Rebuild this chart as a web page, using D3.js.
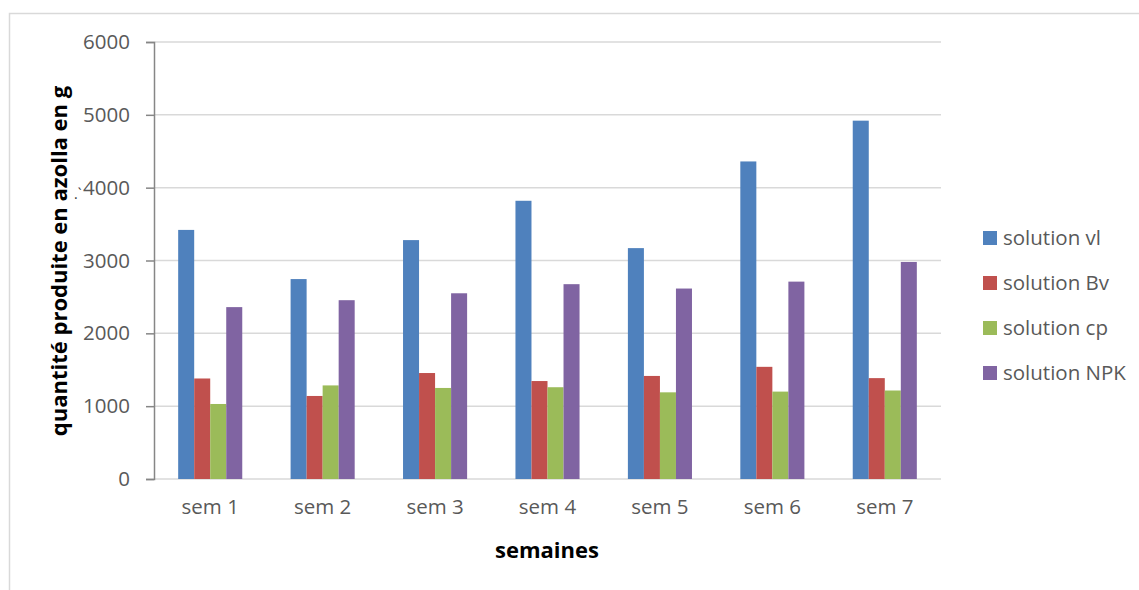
<!DOCTYPE html>
<html>
<head>
<meta charset="utf-8">
<script src="https://cdn.jsdelivr.net/npm/d3@7"></script>
<style>
  html, body { margin: 0; padding: 0; background: #fff; }
  svg { display: block; }
</style>
</head>
<body>
<svg id="chart" width="1139" height="590"></svg>
<script>
// Weekly azolla production (g) for each nutrient solution
const weeks = ["sem 1", "sem 2", "sem 3", "sem 4", "sem 5", "sem 6", "sem 7"];
const seriesNames = ["solution vl", "solution Bv", "solution cp", "solution NPK"];
const solutionVl  = [3420, 2745, 3280, 3820, 3170, 4360, 4920];
const solutionBv  = [1380, 1140, 1455, 1345, 1415, 1540, 1385];
const solutionCp  = [1030, 1285, 1250, 1260, 1190, 1200, 1215];
const solutionNpk = [2360, 2455, 2550, 2675, 2615, 2710, 2980];
const yTicks = [0, 1000, 2000, 3000, 4000, 5000, 6000];
const colors = ["#4f81bd", "#c0504d", "#9bbb59", "#8064a2"];

const seriesValues = [solutionVl, solutionBv, solutionCp, solutionNpk];

const svg = d3.select("#chart");
const font = "'Open Sans', 'DejaVu Sans', sans-serif";

// outer chart frame
svg.append("rect")
  .attr("x", 9.5).attr("y", 13.5)
  .attr("width", 1200).attr("height", 700)
  .attr("fill", "none")
  .attr("stroke", "#d9d9d9")
  .attr("stroke-width", 1.5);

const plot = { left: 154, right: 941, top: 42, bottom: 479 };

const x = d3.scaleBand()
  .domain(weeks)
  .range([plot.left, plot.right])
  .paddingInner(0.43)
  .paddingOuter(0.215);

const xs = d3.scaleBand()
  .domain(d3.range(seriesNames.length))
  .range([0, x.bandwidth()]);

const y = d3.scaleLinear()
  .domain([0, 6000])
  .range([plot.bottom, plot.top]);

// horizontal gridlines
svg.append("g")
  .selectAll("line")
  .data(yTicks)
  .join("line")
  .attr("x1", plot.left).attr("x2", plot.right)
  .attr("y1", d => y(d)).attr("y2", d => y(d))
  .attr("stroke", "#d9d9d9")
  .attr("stroke-width", 1.5);

// bars
seriesValues.forEach((vals, si) => {
  svg.append("g")
    .selectAll("rect")
    .data(vals)
    .join("rect")
    .attr("x", (d, i) => x(weeks[i]) + xs(si))
    .attr("width", xs.bandwidth())
    .attr("y", d => y(d))
    .attr("height", d => y(0) - y(d))
    .attr("fill", colors[si]);
});

// y axis
const yAxis = d3.axisLeft(y)
  .tickValues(yTicks)
  .tickSize(8)
  .tickPadding(16)
  .tickFormat(d3.format("d"));

const yg = svg.append("g")
  .attr("transform", `translate(${plot.left},0)`)
  .call(yAxis);
yg.select(".domain").attr("stroke", "#868686").attr("stroke-width", 1.5);
yg.selectAll(".tick line").attr("stroke", "#868686").attr("stroke-width", 1.5);
yg.selectAll(".tick text")
  .attr("fill", "#595959")
  .style("font-family", font)
  .style("font-size", "20.5px");

// x axis labels
const xAxis = d3.axisBottom(x).tickSize(0).tickPadding(20);
const xg = svg.append("g")
  .attr("transform", `translate(0,${plot.bottom})`)
  .call(xAxis);
xg.select(".domain").remove();
xg.selectAll(".tick text")
  .attr("fill", "#595959")
  .style("font-family", font)
  .style("font-size", "20.5px");

// axis titles
svg.append("text")
  .attr("x", 547).attr("y", 558)
  .attr("text-anchor", "middle")
  .style("font-family", font)
  .style("font-weight", "bold")
  .style("font-size", "22px")
  .attr("fill", "#000")
  .text("semaines");

svg.append("text")
  .attr("transform", "translate(67,261) rotate(-90)")
  .attr("text-anchor", "middle")
  .style("font-family", font)
  .style("font-weight", "bold")
  .style("font-size", "22px")
  .attr("fill", "#000")
  .text("quantité produite en azolla en g");

svg.append("text")
  .attr("x", 74).attr("y", 199)
  .style("font-family", font)
  .style("font-size", "14px")
  .attr("fill", "#333")
  .text(".`");

// legend
const legend = svg.append("g")
  .selectAll("g")
  .data(seriesNames)
  .join("g")
  .attr("transform", (d, i) => `translate(983,${238 + i * 45})`);

legend.append("rect")
  .attr("x", 0).attr("y", -7)
  .attr("width", 14).attr("height", 14)
  .attr("fill", (d, i) => colors[i]);

legend.append("text")
  .attr("x", 20).attr("y", 0)
  .attr("dy", "0.35em")
  .attr("fill", "#595959")
  .style("font-family", font)
  .style("font-size", "20.5px")
  .text(d => d);
</script>
</body>
</html>
